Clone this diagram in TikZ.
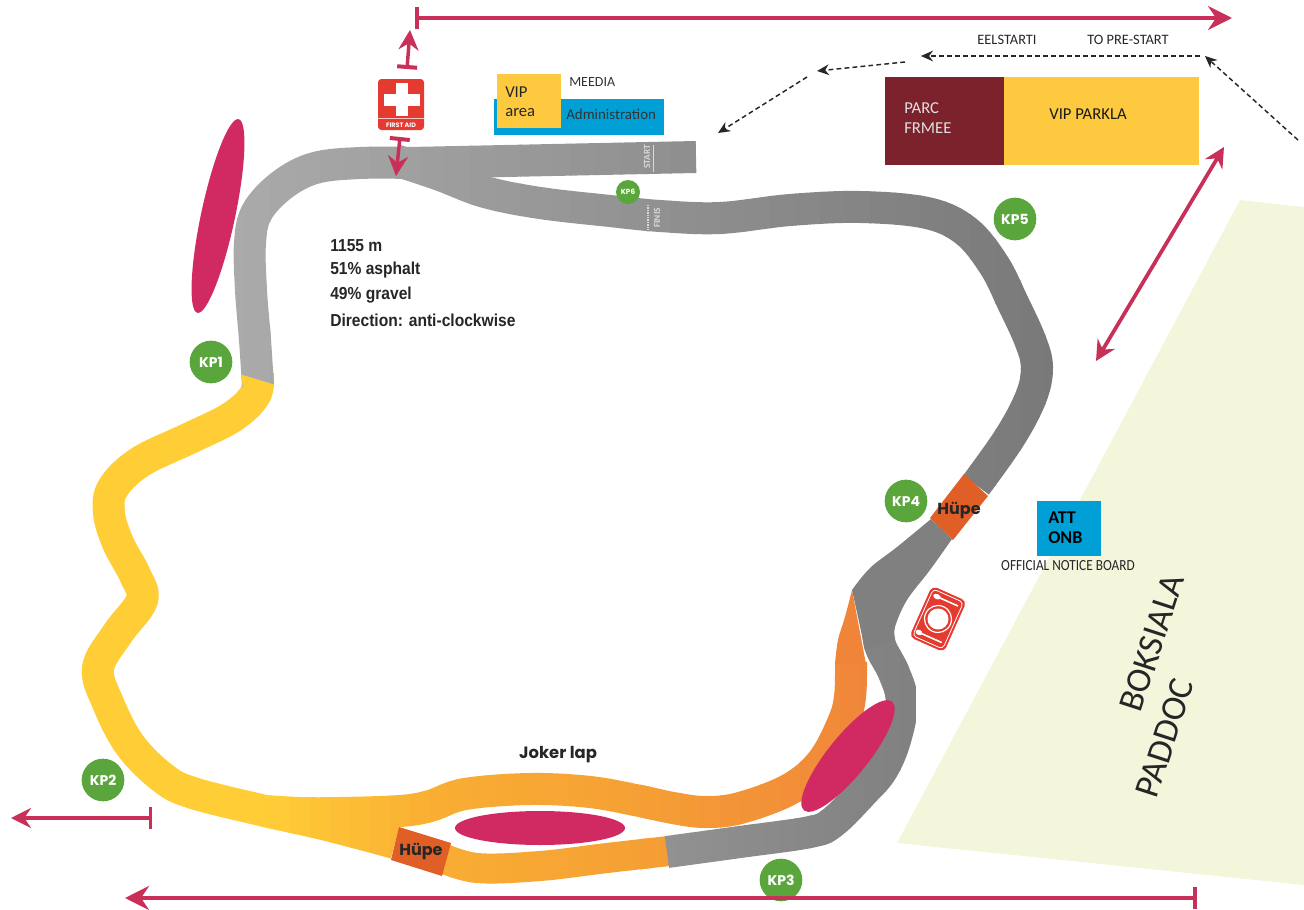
\documentclass[tikz,border=0pt]{standalone}
\usepackage{fontspec}
\usetikzlibrary{arrows.meta,shapes.geometric}
\setmainfont{Carlito}
\newfontfamily\kpfont{Poppins}
\newfontfamily\infofont[FakeStretch=0.9]{Liberation Sans}
\newfontfamily\noticefont[FakeStretch=0.86]{Carlito}
\definecolor{tyellow}{HTML}{FFCD36}
\definecolor{tmid}{HTML}{F9AE33}
\definecolor{tmidb}{HTML}{F59F34}
\definecolor{torange}{HTML}{F0853A}
\definecolor{hupec}{HTML}{DF5F27}
\definecolor{pinkc}{HTML}{D12A62}
\definecolor{linec}{HTML}{C8305A}
\definecolor{greenc}{HTML}{5AA63C}
\definecolor{beigec}{HTML}{F4F6DC}
\definecolor{maroonc}{HTML}{7C222C}
\definecolor{vipc}{HTML}{FDC93F}
\definecolor{bluec}{HTML}{00A0D6}
\definecolor{redc}{HTML}{E53A2F}
\definecolor{greyA}{HTML}{ABABAB}
\definecolor{greyB}{HTML}{787878}
\definecolor{greyC}{HTML}{929292}
\definecolor{greyD}{HTML}{808080}
\newcommand{\gradstrips}[6]{%
  \pgfmathsetmacro{\gsn}{int(round((#2-#1)/#3))-1}%
  \foreach \gsi in {0,...,\gsn}{%
    \pgfmathsetmacro{\gsx}{#1+\gsi*#3}%
    \pgfmathsetmacro{\gsp}{100*(\gsi+0.5)/(\gsn+1)}%
    \colorlet{gscol}{#5!\gsp!#4}%
    \begin{scope}
      \clip (\gsx,-5) rectangle (\gsx+#3+0.8,915);
      #6
    \end{scope}
  }%
}
\newcommand{\warmpaths}{%
  \draw[trackline] plot[smoothp] coordinates {(258,374) (255,395) (232,417) (190,438) (140,462) (113,488) (109,513) (118,543) (135,575) (142,600) (118,633) (98,668) (108,703) (130,745) (163,778) (193,793) (265,811) (327,825) (395,843)};
  \draw[trackline] plot[smoothp] coordinates {(265,811) (300,813) (340,813) (400,811) (430,806) (465,794) (530,789) (590,792) (640,801) (673,808) (705,812) (740,808) (790,789) (822,762) (843,723) (850,697) (851,662)};
  \draw[trackline,line width=22.5pt] plot[smoothp] coordinates {(440,857) (477,868) (540,866) (607,858) (669,851)};
}
\newcommand{\greytoppaths}{%
  \draw[trackline] plot[smoothp] coordinates {(258,386) (255,340) (251,290) (250,243) (257,212) (282,185) (315,168) (360,163) (410,163)} -- (696,157);
  \draw[trackline] plot[smoothp] coordinates {(395,160) (440,175) (485,192) (540,203) (610,211) (660,216) (720,218) (790,210) (860,207) (927,213) (966,231) (994,265) (1013,303) (1030,340) (1037,367) (1031,397) (1010,437) (976,485)};
}
\newcommand{\greylowpaths}{%
  \draw[trackline] plot[smoothp] coordinates {(878,620) (880,645) (894,673) (902,702) (895,740) (882,770) (863,792) (833,822) (810,832) (740,842) (667,852)};
}
\tikzset{
  trackline/.style={draw=gscol,line width=24pt,line cap=butt},
  smoothp/.style={smooth,tension=0.6},
  redline/.style={draw=linec,line width=3.2pt},
  reddouble/.style={draw=linec,line width=2.8pt},
  redthin/.style={draw=linec,line width=2.6pt},
  bigtip/.tip={Stealth[length=18pt,width=18pt,inset=6pt]},
  midtip/.tip={Stealth[length=15pt,width=15pt,inset=5pt]},
  dashline/.style={draw=black!85,line width=1.1pt,dash pattern=on 3.6pt off 2.4pt,-{Stealth[length=9pt,width=8pt]}},
  kp/.style={circle,fill=greenc,text=white,inner sep=0pt,minimum size=32pt,font=\kpfont\bfseries\fontsize{10.5pt}{12pt}\selectfont},
  hupetext/.style={text=black!85,font=\kpfont\bfseries\fontsize{12pt}{13pt}\selectfont},
  labelt/.style={inner sep=0pt,font=\fontsize{12.5pt}{15pt}\selectfont},
  infot/.style={anchor=west,inner sep=0pt,text=black!85,font=\infofont\bfseries\fontsize{13pt}{15pt}\selectfont},
  ellipsefill/.style={fill=pinkc},
}
\begin{document}
\begin{tikzpicture}[x=0.75pt,y=-0.75pt]
\useasboundingbox (0,0) rectangle (1304,910);
% paddock
\fill[beigec] (1240,200) -- (1304,207) -- (1304,885) -- (897,843) -- cycle;
% warm track
\gradstrips{70}{270}{200}{tyellow}{tyellow}{\warmpaths}
\gradstrips{270}{430}{20}{tyellow}{tmid}{\warmpaths}
\gradstrips{430}{640}{20}{tmid}{tmidb}{\warmpaths}
\gradstrips{640}{880}{20}{tmidb}{torange}{\warmpaths}
\fill[torange] plot[smoothp] coordinates {(835,664) (838,640) (845,617) (852,590)} -- (866,664) -- cycle;
% grey track
\gradstrips{220}{1060}{25}{greyA}{greyB}{\greytoppaths}
\gradstrips{660}{915}{15}{greyC}{greyD}{\greylowpaths}
\fill[greyD] plot[smoothp] coordinates {(931,519) (897,547) (870,568) (852,590)}
  -- (858,617) -- (865,650)
  -- plot[smoothp] coordinates {(895,640) (895,627) (907,600) (930,570) (952,539)} -- cycle;
\fill[tyellow] (241,374.5) -- (274,384.5) -- (272,392) -- (243,388) -- cycle;
% jumps
\fill[hupec] (964,474) -- (988,496) -- (953,540) -- (930,518) -- cycle;
\fill[hupec] (399,827) -- (451,843) -- (442,876) -- (391,860) -- cycle;
% pink ellipses
\path[ellipsefill] (218,216) ellipse [x radius=99,y radius=17,rotate=78];
\path[ellipsefill] (540,828) ellipse [x radius=85,y radius=17];
\path[ellipsefill] (848,756) ellipse [x radius=70,y radius=20,rotate=51];
% areas
\fill[maroonc] (885,77) rectangle (1004,165);
\fill[vipc] (1004,77) rectangle (1199,165);
\fill[bluec] (494,99) rectangle (664,135);
\fill[vipc] (497,74) rectangle (561,128);
\fill[bluec] (1037,501) rectangle (1101,556);
% labels in areas
\node[labelt,anchor=west,text=white!88!black,align=left] (parc) at (904,118) {PARC\\FRMEE};
\node[labelt,text=black!90] (vippark) at (1088,114) {VIP PARKLA};
\node[labelt,anchor=west,text=black!85] (vip) at (505,92) {VIP};
\node[labelt,anchor=west,text=black!85] (area) at (505,113) {area};
\node[anchor=west,inner sep=0pt,text=black!80,font=\fontsize{11.2pt}{14pt}\selectfont] (admin) at (566,114) {Administration};
\node[anchor=west,inner sep=0pt,text=black!80,font=\fontsize{10.5pt}{12pt}\selectfont] (meedia) at (569,82) {MEEDIA};
\node[anchor=west,inner sep=0pt,text=black,align=left,font=\bfseries\fontsize{13.5pt}{15pt}\selectfont] (att) at (1048,528) {ATT\\ONB};
\node[inner sep=0pt,text=black!85,font=\noticefont\fontsize{11.6pt}{13pt}\selectfont] (onb) at (1068,566) {OFFICIAL NOTICE BOARD};
\node[inner sep=0pt,text=black!85,font=\fontsize{10.8pt}{12pt}\selectfont] (eel) at (1007,40) {EELSTARTI};
\node[inner sep=0pt,text=black!85,font=\fontsize{10.8pt}{12pt}\selectfont] (pre) at (1128,40) {TO PRE-START};
\node[inner sep=0pt,rotate=72,text=black!85,font=\fontsize{26.5pt}{30pt}\selectfont] (boks) at (1152,643) {BOKSIALA};
\node[inner sep=0pt,rotate=72,text=black!85,font=\fontsize{26.5pt}{30pt}\selectfont] (padd) at (1165,738) {PADDOC};
% info
\node[infot] (i1) at (330,246) {1155 m};
\node[infot] (i2) at (330,270) {51\% asphalt};
\node[infot] (i3) at (330,295) {49\% gravel};
\node[infot] (i4) at (330,320) {Direction: anti-clockwise};
\node[hupetext,font=\kpfont\bfseries\fontsize{12.3pt}{13pt}\selectfont] (joker) at (558,755) {Joker lap};
\node[hupetext] (h1) at (959,510) {Hüpe};
\node[hupetext] (h2) at (421,851) {Hüpe};
% start, finish marks
\node[inner sep=0pt,rotate=90,text=white!85!black,font=\bfseries\fontsize{7pt}{8pt}\selectfont] (st) at (647,157) {START};
\draw[white!85!black,line width=0.6pt] (653,145) -- (653,172);
\node[inner sep=0pt,rotate=90,text=white!85!black,font=\bfseries\fontsize{7pt}{8pt}\selectfont] (fi) at (657,218) {FINIS};
\draw[white!85!black,line width=1.4pt,dash pattern=on 1pt off 0.8pt] (648,205) -- (648,232);
% KP circles
\node[kp] (kp1) at (211,362) {KP1};
\node[kp] (kp2) at (103,780) {KP2};
\node[kp] (kp3) at (781,880) {KP3};
\node[kp] (kp4) at (906,501) {KP4};
\node[kp] (kp5) at (1015,219) {KP5};
\node[kp,minimum size=18pt,font=\kpfont\bfseries\fontsize{5.5pt}{6pt}\selectfont] (kp6) at (628,192) {KP6};
% first aid icon
\fill[redc,rounded corners=2.5pt] (378,79) rectangle (424,130);
\fill[white] (396,83) rectangle (408,116);
\fill[white] (384,94) rectangle (420,106);
\draw[white!70!redc,line width=0.4pt] (378,118) -- (424,118);
\node[inner sep=0pt,text=white,font=\kpfont\bfseries\fontsize{4.8pt}{5pt}\selectfont] (fa) at (401,125) {FIRST AID};
% food icon
\begin{scope}[shift={(938,619)},rotate=-24]
\fill[redc,rounded corners=4pt] (-19,-28) rectangle (19,28);
\draw[white,line width=0.6pt,rounded corners=3pt] (-16.5,-25.5) rectangle (16.5,25.5);
\draw[white,line width=0.9pt] (0,0) circle (13.5);
\fill[white] (0,0) circle (10.5);
\draw[white,line width=1.2pt] (-8,-20) -- (13,-20);
\fill[white] (-10,-20) ellipse [x radius=4,y radius=2.6];
\draw[white,line width=1.2pt] (-10,20) -- (13,20);
\fill[white] (-12,20) ellipse [x radius=3.5,y radius=2.6];
\end{scope}
% coordinates for connectors
\coordinate (topa) at (415,18);
\coordinate (topb) at (1232,18);
\coordinate (lefta) at (152,818);
\coordinate (leftb) at (11,818);
\coordinate (bota) at (1197,898);
\coordinate (botb) at (125,898);
\coordinate (da) at (1096,361);
\coordinate (db) at (1224,147);
\coordinate (upa) at (407,69);
\coordinate (upb) at (410,30);
\coordinate (dna) at (400,137);
\coordinate (dnb) at (396,176);
\coordinate (d1) at (1298,140);
\coordinate (d2) at (1205,56);
\coordinate (d3) at (1200,56);
\coordinate (d4) at (921,56);
\coordinate (d5) at (905,62);
\coordinate (d6) at (817,71);
\coordinate (d7) at (807,77);
\coordinate (d8) at (718,133);
% red connectors
\draw[redline,{Bar[width=17pt,line width=3pt]}-bigtip] (topa) -- (topb);
\draw[redline,{Bar[width=17pt,line width=3pt]}-bigtip] (bota) -- (botb);
\draw[redthin,{Bar[width=16pt,line width=2.6pt]}-midtip] (lefta) -- (leftb);
\draw[reddouble,midtip-midtip] (da) -- (db);
\draw[redthin,{Bar[width=15pt,line width=3pt]}-midtip] (upa) -- (upb);
\draw[redthin,{Bar[width=15pt,line width=3pt]}-midtip] (dna) -- (dnb);
% dashed connectors
\draw[dashline] (d1) -- (d2);
\draw[dashline] (d3) -- (d4);
\draw[dashline] (d5) -- (d6);
\draw[dashline] (d7) -- (d8);
\end{tikzpicture}
\end{document}
